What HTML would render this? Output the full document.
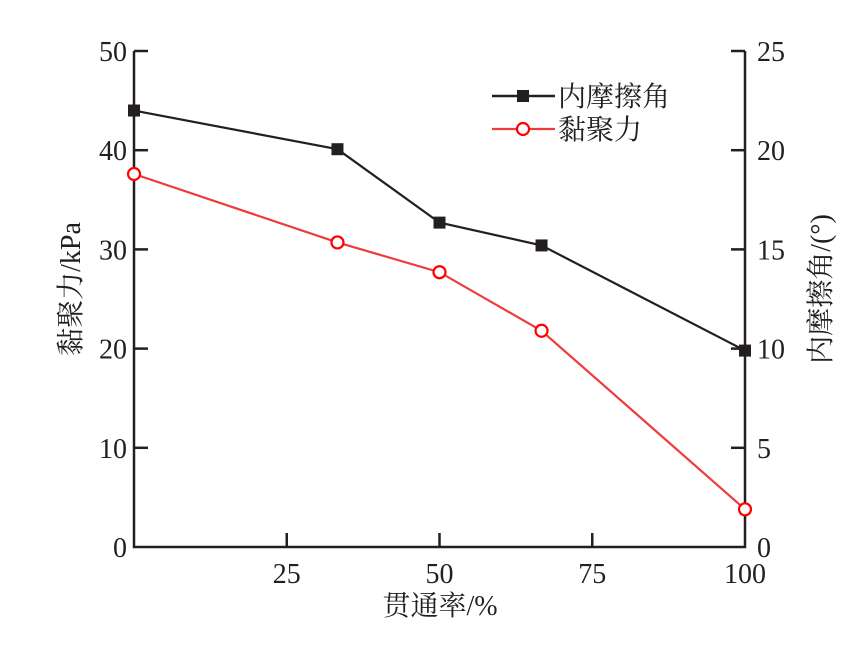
<!DOCTYPE html>
<html><head><meta charset="utf-8"><style>
body{margin:0;background:#fff}
svg text{font-family:"Liberation Serif","Noto Serif CJK SC",serif;font-size:28px;fill:#231f20}
</style></head><body>
<svg id="c" width="863" height="640" xmlns="http://www.w3.org/2000/svg"></svg>
<script>
const xVals=[0,33.3,50,66.7,100];
const friction=[22,20.05,16.35,15.2,9.9];
const cohesion=[37.6,30.7,27.7,21.8,3.8];
const xTicks=[25,50,75,100];
const leftTicks=[0,10,20,30,40,50];
const rightTicks=[0,5,10,15,20,25];
const NS="http://www.w3.org/2000/svg";
const svg=document.getElementById('c');
const X=v=>134+v*6.11, YL=v=>547-v*9.92, YR=v=>547-v*19.84;
function mk(t,a,p){const e=document.createElementNS(NS,t);for(const k in a)e.setAttribute(k,a[k]);(p||svg).appendChild(e);return e;}
function txt(s,x,y,anchor,name){const e=mk('text',{x:x,y:y,'text-anchor':anchor});e.textContent=s;

return e;}
const ax=mk('path',{d:`M134 51V547H745V51`,fill:'none',stroke:'#231f20','stroke-width':2.5});


leftTicks.forEach(v=>{const y=YL(v);if(v>0)mk('line',{x1:134,x2:148,y1:y,y2:y,stroke:'#231f20','stroke-width':2.5});txt(String(v),127,y+10,'end','left-tick-label');});
rightTicks.forEach(v=>{const y=YR(v);if(v>0)mk('line',{x1:745,x2:731,y1:y,y2:y,stroke:'#231f20','stroke-width':2.5});txt(String(v),757,y+10,'start','right-tick-label');});
xTicks.forEach(v=>{const x=X(v);if(v<100)mk('line',{x1:x,x2:x,y1:547,y2:533,stroke:'#231f20','stroke-width':2.5});txt(String(v),x,583,'middle','x-tick-label');});
txt('贯通率/%',440,615,'middle','x-axis-title');
const yl=txt('黏聚力/kPa',0,0,'middle','left-axis-title');yl.setAttribute('transform','translate(80,289) rotate(-90)');
const yr=txt('内摩擦角/(°)',0,0,'middle','right-axis-title');yr.setAttribute('transform','translate(830,289) rotate(-90)');
const fl=mk('polyline',{points:xVals.map((v,i)=>X(v)+','+YR(friction[i])).join(' '),fill:'none',stroke:'#231f20','stroke-width':2.2});


xVals.forEach((v,i)=>{const r=mk('rect',{x:X(v)-6,y:YR(friction[i])-6,width:12,height:12,fill:'#231f20'});

});
const cl=mk('polyline',{points:xVals.map((v,i)=>X(v)+','+YL(cohesion[i])).join(' '),fill:'none',stroke:'#ee3b3b','stroke-width':2.2});


xVals.forEach((v,i)=>{const c=mk('circle',{cx:X(v),cy:YL(cohesion[i]),r:6,fill:'#fff',stroke:'#ff0000','stroke-width':2.2});

});
mk('line',{x1:492,x2:555,y1:96,y2:96,stroke:'#231f20','stroke-width':2.5});
mk('rect',{x:517,y:90,width:12,height:12,fill:'#231f20'});
txt('内摩擦角',558,106,'start','legend-friction');
mk('line',{x1:492,x2:555,y1:129,y2:129,stroke:'#ee3b3b','stroke-width':2.2});
mk('circle',{cx:523,cy:129,r:6,fill:'#fff',stroke:'#ff0000','stroke-width':2.2});
txt('黏聚力',558,139,'start','legend-cohesion');
</script>
</body></html>
